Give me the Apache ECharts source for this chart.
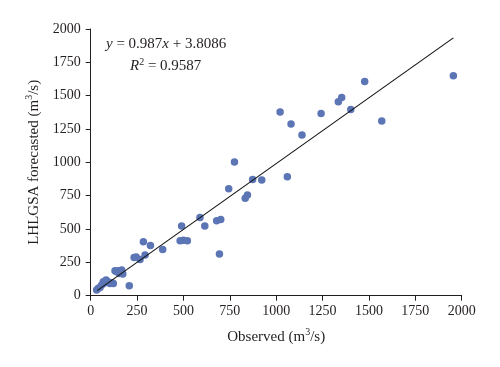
<!DOCTYPE html>
<html>
<head>
<meta charset="utf-8">
<script src="https://cdn.jsdelivr.net/npm/echarts@6/dist/echarts.min.js"></script>
<style>
html,body{margin:0;padding:0;background:#fff;}
#chart{width:500px;height:367px;}
</style>
</head>
<body>
<div id="chart"></div>
<script>
// Observed values (m3/s)
var observed = [32, 41, 50, 59, 68, 75, 83, 90, 97, 104, 115, 122, 131, 140, 149, 155, 167, 173, 208,
  234, 245, 266, 284, 293, 322, 388, 482, 490, 500, 521, 589, 615, 679, 694, 701,
  744, 775, 833, 845, 873, 922, 1021, 1060, 1080, 1139, 1242, 1335, 1353, 1402, 1477, 1569, 1955];
// LHLGSA forecasted values (m3/s)
var forecasted = [42, 55, 62, 80, 105, 95, 117, 105, 100, 92, 97, 92, 187, 180, 187, 167, 192, 162, 75,
  287, 290, 272, 405, 305, 377, 347, 412, 522, 415, 412, 587, 522, 562, 312, 572,
  802, 1002, 730, 755, 872, 867, 1377, 892, 1287, 1205, 1367, 1455, 1487, 1397, 1607, 1310, 1650];
// Trend line: y = slope * x + intercept
var trendCoef = [0.987, 3.8086];
var trendRange = [35, 1955];
var axisTicks = [0, 250, 500, 750, 1000, 1250, 1500, 1750, 2000];

var points = observed.map(function (v, i) { return [v, forecasted[i]]; });
var trend = trendRange.map(function (x) { return [x, trendCoef[0] * x + trendCoef[1]]; });

var font = '"Liberation Serif", "DejaVu Serif", serif';
var txtColor = '#231f20';
function fmt(v) { return String(v); }

var chart = echarts.init(document.getElementById('chart'), null, {renderer: 'canvas'});
var supRich = {
  sup: {fontSize: 10, verticalAlign: 'top', padding: [0, 0, 8, 0], fontFamily: font, color: txtColor}
};
chart.setOption({
  animation: false,
  backgroundColor: '#fff',
  grid: {left: 90.7, right: 38.3, top: 29, bottom: 71.3, containLabel: false},
  xAxis: {
    type: 'value', min: axisTicks[0], max: axisTicks[axisTicks.length - 1], interval: 250,
    name: 'Observed (m{sup|3}/s)',
    nameLocation: 'middle', nameGap: 32,
    nameTextStyle: {fontFamily: font, fontSize: 15, color: txtColor, rich: supRich},
    axisLine: {show: true, lineStyle: {color: '#231f20', width: 1}},
    axisTick: {show: true, inside: false, length: 5, lineStyle: {color: '#231f20'}},
    axisLabel: {fontFamily: font, fontSize: 14, color: txtColor, margin: 9, formatter: fmt},
    splitLine: {show: false}
  },
  yAxis: {
    type: 'value', min: axisTicks[0], max: axisTicks[axisTicks.length - 1], interval: 250,
    name: 'LHLGSA forecasted (m{sup|3}/s)',
    nameLocation: 'middle', nameGap: 48, nameRotate: 90,
    nameTextStyle: {fontFamily: font, fontSize: 15, color: txtColor, rich: supRich},
    axisLine: {show: true, lineStyle: {color: '#231f20', width: 1}},
    axisTick: {show: true, inside: false, length: 5, lineStyle: {color: '#231f20'}},
    axisLabel: {fontFamily: font, fontSize: 14, color: txtColor, margin: 10, formatter: fmt},
    splitLine: {show: false}
  },
  series: [
    {
      type: 'scatter', data: points, symbol: 'circle', symbolSize: 7.5,
      itemStyle: {color: '#5b75b5', opacity: 1}, z: 2
    },
    {
      type: 'line', data: trend, symbol: 'none',
      lineStyle: {color: '#111', width: 1.1}, z: 3
    }
  ],
  graphic: [
    {
      type: 'text', left: 106, top: 37,
      style: {
        text: '{i|y} = 0.987{i|x} + 3.8086',
        font: '15px ' + font, fill: txtColor,
        rich: {i: {fontStyle: 'italic', fontFamily: font, fontSize: 15, fill: txtColor}}
      }
    },
    {
      type: 'text', left: 130, top: 57,
      style: {
        text: '{i|R}{s|2} = 0.9587',
        font: '15px ' + font, fill: txtColor,
        rich: {
          i: {fontStyle: 'italic', fontFamily: font, fontSize: 15, fill: txtColor},
          s: {fontFamily: font, fontSize: 10, verticalAlign: 'top', padding: [0, 0, 8, 0], fill: txtColor}
        }
      }
    }
  ]
});
</script>
</body>
</html>
